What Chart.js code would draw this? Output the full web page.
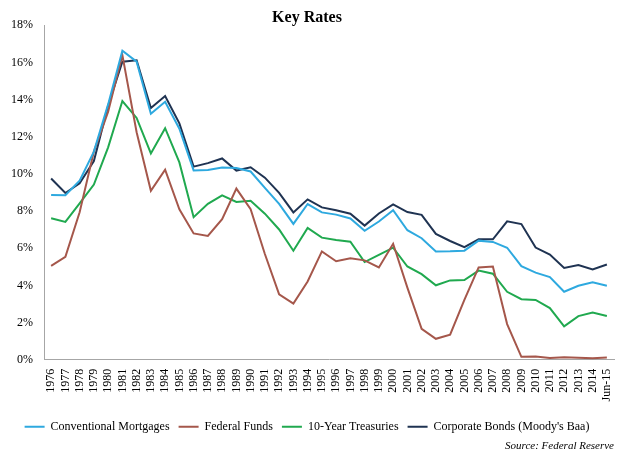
<!DOCTYPE html>
<html lang="en">
<head>
    <meta charset="UTF-8">
    <title>Key Rates</title>
    <script src="https://cdn.jsdelivr.net/npm/chart.js"></script>
    <style>
        body {
            margin: 0;
            padding: 0;
            background-color: #fff;
        }
        #chart {
            display: block;
        }
    </style>
</head>
<body>
    <canvas id="chart" width="628" height="466"></canvas>

    <script>
        const years = ['1976', '1977', '1978', '1979', '1980', '1981', '1982', '1983', '1984', '1985',
            '1986', '1987', '1988', '1989', '1990', '1991', '1992', '1993', '1994', '1995',
            '1996', '1997', '1998', '1999', '2000', '2001', '2002', '2003', '2004', '2005',
            '2006', '2007', '2008', '2009', '2010', '2011', '2012', '2013', '2014', 'Jun-15'];

        const mortgages = [8.87, 8.85, 9.64, 11.20, 13.74, 16.63, 16.04, 13.24, 13.88, 12.43,
            10.19, 10.21, 10.34, 10.32, 10.13, 9.25, 8.39, 7.31, 8.38, 7.93,
            7.81, 7.60, 6.94, 7.44, 8.05, 6.97, 6.54, 5.83, 5.84, 5.87,
            6.41, 6.34, 6.03, 5.04, 4.69, 4.45, 3.66, 3.98, 4.17, 3.98];

        const fedFunds = [5.05, 5.54, 7.94, 11.20, 13.35, 16.39, 12.24, 9.09, 10.23, 8.10,
            6.80, 6.66, 7.57, 9.21, 8.10, 5.69, 3.52, 3.02, 4.21, 5.83,
            5.30, 5.46, 5.35, 4.97, 6.24, 3.88, 1.67, 1.13, 1.35, 3.22,
            4.97, 5.02, 1.92, 0.16, 0.18, 0.10, 0.14, 0.11, 0.09, 0.13];

        const treasuries = [7.61, 7.42, 8.41, 9.43, 11.43, 13.92, 13.01, 11.10, 12.46, 10.62,
            7.67, 8.39, 8.85, 8.49, 8.55, 7.86, 7.01, 5.87, 7.09, 6.57,
            6.44, 6.35, 5.26, 5.65, 6.03, 5.02, 4.61, 4.01, 4.27, 4.29,
            4.80, 4.63, 3.66, 3.26, 3.22, 2.78, 1.80, 2.35, 2.54, 2.36];

        const baa = [9.75, 8.97, 9.49, 10.69, 13.67, 16.04, 16.11, 13.55, 14.19, 12.72,
            10.39, 10.58, 10.83, 10.18, 10.36, 9.80, 8.98, 7.93, 8.63, 8.20,
            8.05, 7.86, 7.22, 7.87, 8.36, 7.95, 7.80, 6.77, 6.39, 6.06,
            6.48, 6.48, 7.45, 7.30, 6.04, 5.66, 4.94, 5.10, 4.86, 5.13];

        const serif = "'Liberation Serif', 'Times New Roman', serif";

        function series(label, data, color) {
            return {
                label: label,
                data: data,
                borderColor: color,
                backgroundColor: color,
                borderWidth: 2,
                pointRadius: 0,
                tension: 0,
                fill: false
            };
        }

        new Chart(document.getElementById('chart').getContext('2d'), {
            type: 'line',
            data: {
                labels: years,
                datasets: [
                    series('Conventional Mortgages', mortgages, '#2ea9df'),
                    series('Federal Funds', fedFunds, '#a5574b'),
                    series('10-Year Treasuries', treasuries, '#20a94f'),
                    series("Corporate Bonds (Moody's Baa)", baa, '#1f3352')
                ]
            },
            options: {
                responsive: false,
                animation: false,
                layout: { padding: { left: 0, right: 14, top: 5, bottom: 4 } },
                scales: {
                    x: {
                        offset: true,
                        grid: { display: false },
                        border: { display: true, color: '#a6a6a6', width: 1 },
                        afterFit: function (scale) { scale.height = 52; },
                        ticks: {
                            autoSkip: false,
                            maxRotation: 90,
                            minRotation: 90,
                            color: '#000',
                            padding: 1,
                            font: { family: serif, size: 12 }
                        }
                    },
                    y: {
                        min: 0,
                        max: 18,
                        grid: { display: false },
                        border: { display: true, color: '#a6a6a6', width: 1 },
                        afterFit: function (scale) { scale.width = 44; },
                        ticks: {
                            stepSize: 2,
                            color: '#000',
                            padding: 3,
                            font: { family: serif, size: 12 },
                            callback: (v) => v + '%'
                        }
                    }
                },
                plugins: {
                    title: {
                        display: true,
                        text: 'Key Rates',
                        color: '#000',
                        font: { family: serif, size: 16, weight: 'bold' },
                        padding: { top: 3, bottom: -2 }
                    },
                    legend: {
                        position: 'bottom',
                        labels: {
                            usePointStyle: true,
                            pointStyle: 'line',
                            pointStyleWidth: 20,
                            color: '#000',
                            padding: 9,
                            font: { family: serif, size: 12 }
                        }
                    },
                    subtitle: {
                        display: true,
                        position: 'bottom',
                        align: 'end',
                        text: 'Source: Federal Reserve',
                        color: '#000',
                        font: { family: serif, size: 11, style: 'italic' },
                        padding: { top: -3, bottom: 9 }
                    },
                    tooltip: { enabled: false }
                }
            }
        });
    </script>
</body>
</html>
